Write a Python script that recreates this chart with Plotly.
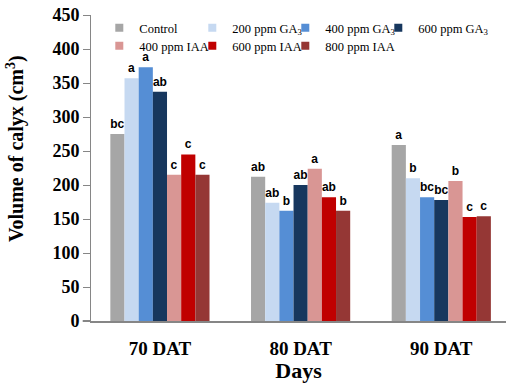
import plotly.graph_objects as go

days = ["70 DAT", "80 DAT", "90 DAT"]
treatments = ["Control", "200 ppm GA<sub>3</sub>", "400 ppm GA<sub>3</sub>", "600 ppm GA<sub>3</sub>",
              "400 ppm IAA", "600 ppm IAA", "800 ppm IAA"]
colors = ["#A6A6A6", "#C6D9F1", "#558ED5", "#17375E", "#D99694", "#C00000", "#953735"]

control = [275, 212, 259]
ga200 = [357, 174, 210]
ga400 = [373, 162, 182]
ga600 = [337, 200, 178]
iaa400 = [215, 224, 206]
iaa600 = [245, 182, 153]
iaa800 = [215, 162, 154]
values = [control, ga200, ga400, ga600, iaa400, iaa600, iaa800]

letters_control = ["bc", "ab", "a"]
letters_ga200 = ["a", "ab", "b"]
letters_ga400 = ["a", "b", "bc"]
letters_ga600 = ["ab", "ab", "bc"]
letters_iaa400 = ["c", "a", "b"]
letters_iaa600 = ["c", "ab", "c"]
letters_iaa800 = ["c", "b", "c"]
letters = [letters_control, letters_ga200, letters_ga400, letters_ga600,
           letters_iaa400, letters_iaa600, letters_iaa800]

serif = "Liberation Serif, Times New Roman, serif"
sans = "Liberation Sans, Arial, sans-serif"

legend_ids = ["legend", "legend", "legend", "legend", "legend2", "legend2", "legend2"]
legend_widths = [48, 48, 48, 80, 48, 48, 80]

fig = go.Figure()
for name, col, vals, lets, lg, lw in zip(treatments, colors, values, letters, legend_ids, legend_widths):
    fig.add_trace(go.Bar(
        x=days, y=vals, name=name, marker_color=col, marker_line_width=0,
        text=lets, textposition="outside", cliponaxis=False, constraintext="none",
        textfont=dict(family=sans, size=12, color="black", weight="bold"),
        showlegend=False,
    ))
    fig.add_trace(go.Scatter(
        x=[None], y=[None], mode="markers", name=name,
        marker=dict(symbol="square", size=8, color=col),
        showlegend=True, legend=lg, legendwidth=lw,
    ))

legend_style = dict(
    orientation="h", xanchor="left", yanchor="top", itemwidth=30,
    font=dict(family=serif, size=12.5, color="black"),
    bgcolor="rgba(0,0,0,0)",
)

fig.update_layout(
    width=506, height=383,
    margin=dict(l=91, r=0, t=15, b=62, autoexpand=False),
    paper_bgcolor="white", plot_bgcolor="white",
    barmode="group", bargap=0.295, bargroupgap=0,
    font=dict(family=serif, color="black"),
    legend=dict(x=0.02, y=1.006, **legend_style),
    legend2=dict(x=0.02, y=0.947, **legend_style),
    xaxis=dict(
        range=[-0.49, 2.46], showline=True, linecolor="#868686", linewidth=2,
        ticks="outside", ticklen=9, tickcolor="rgba(0,0,0,0)", automargin=False,
        tickfont=dict(family=serif, size=19, color="black", weight="bold"),
        title=dict(text="<b>Days</b>", font=dict(family=serif, size=22, color="black"), standoff=1),
        showgrid=False, zeroline=False,
    ),
    yaxis=dict(
        range=[0, 450], dtick=50, showline=True, linecolor="#868686", linewidth=1,
        ticks="outside", ticklen=7, tickcolor="#868686", automargin=False,
        tickfont=dict(family=serif, size=18, color="black", weight="bold"),
        showgrid=False, zeroline=False,
    ),
    shapes=[dict(type="line", xref="paper", yref="paper", x0=-0.02, x1=0, y0=0, y1=0,
                 line=dict(color="#868686", width=2))],
    annotations=[dict(
        text="<b>Volume of calyx (cm<sup>3</sup>)</b>", textangle=-90,
        xref="paper", yref="paper", x=-0.183, y=0.562, xanchor="center", yanchor="middle",
        showarrow=False, font=dict(family=serif, size=20, color="black"),
    )],
)

fig.write_html("out.html", config={"displayModeBar": False},
               post_script="document.body.style.margin='0';")
